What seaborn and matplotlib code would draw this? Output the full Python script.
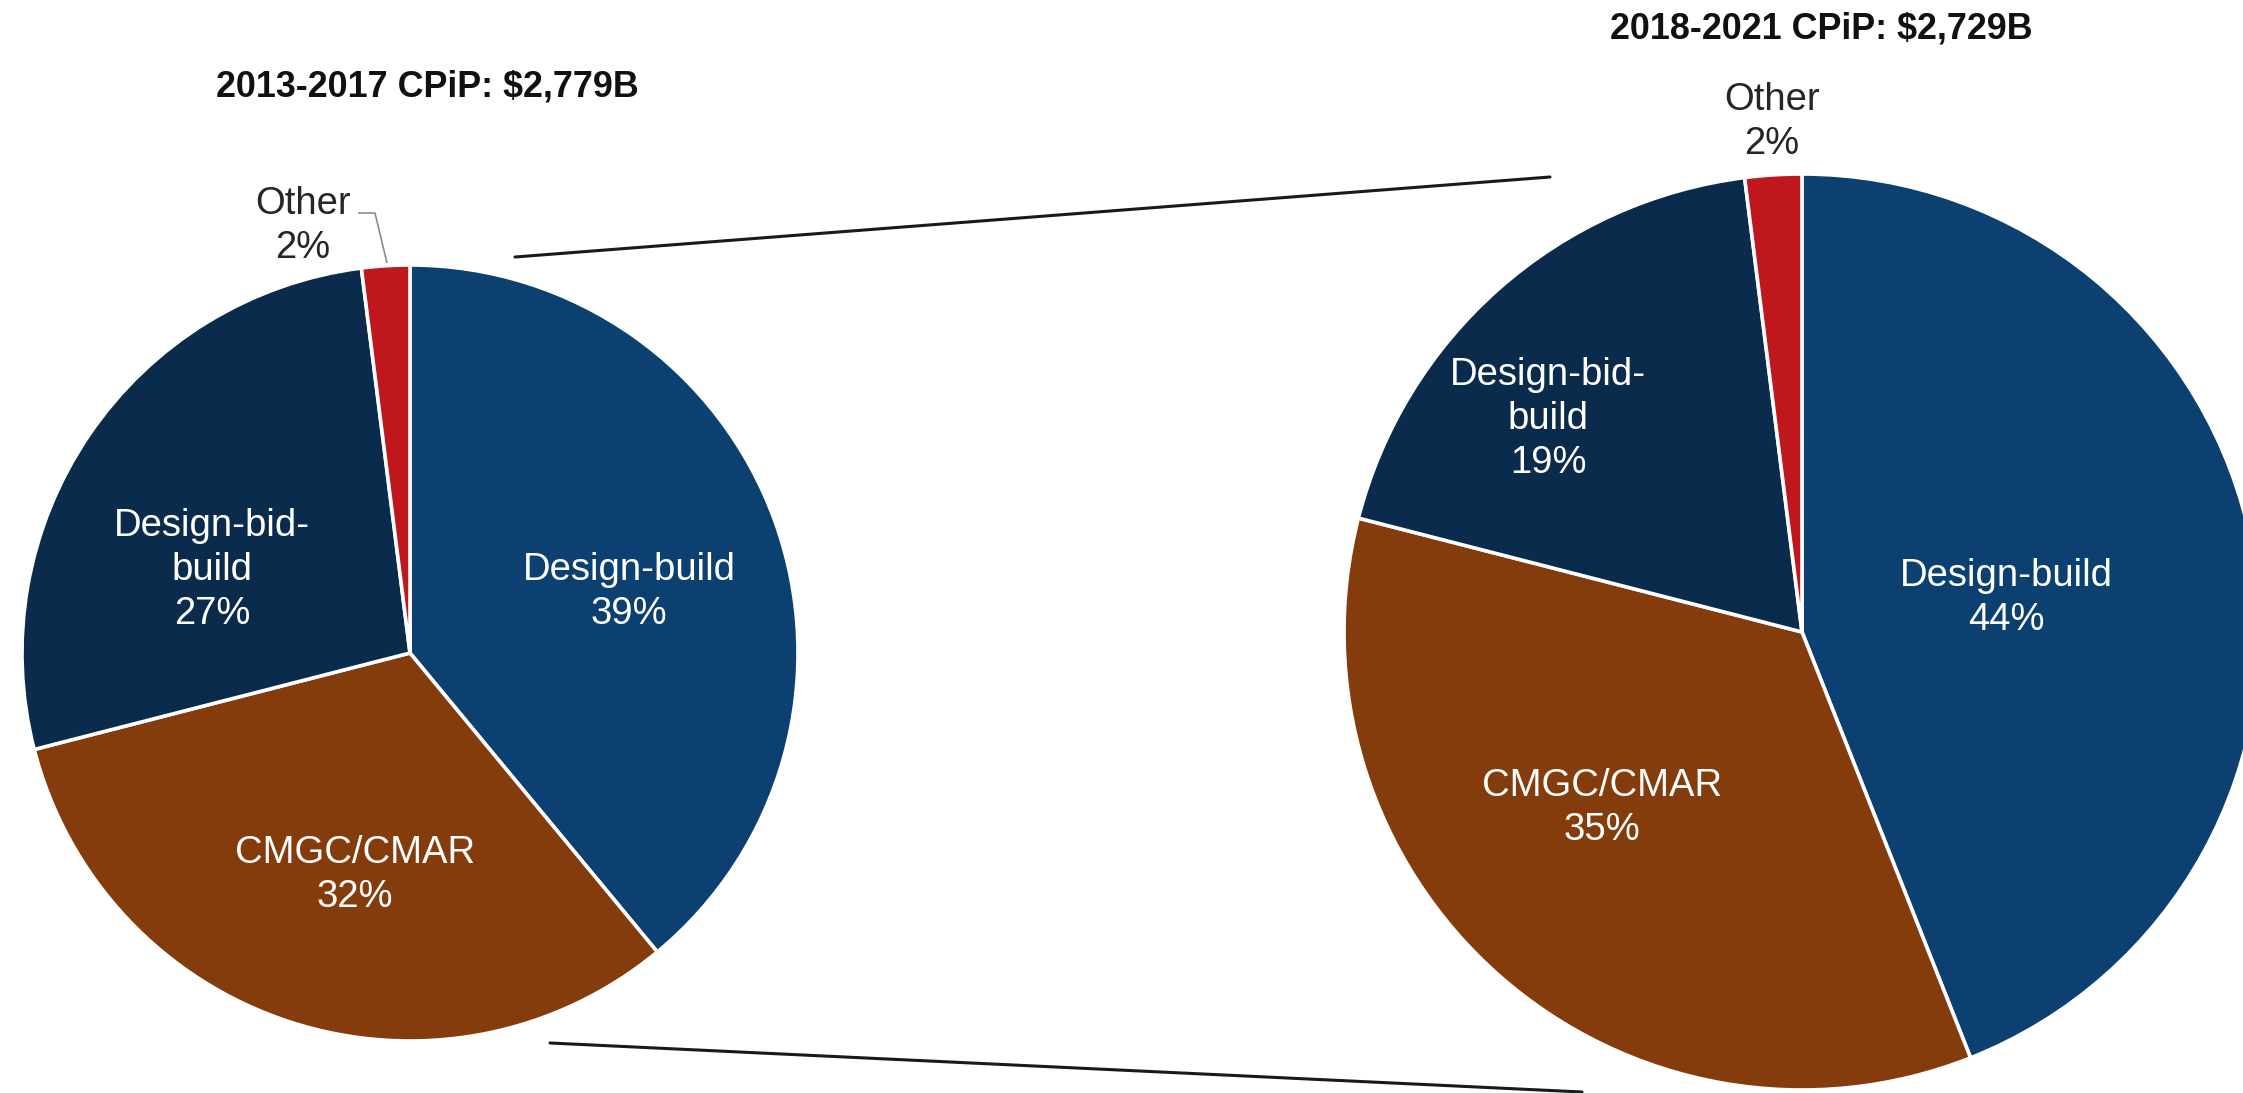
import matplotlib
matplotlib.use("Agg")
import matplotlib.pyplot as plt
import seaborn as sns

# Delivery-method shares of construction put in place (CPiP)
categories = ["Design-build", "CMGC/CMAR", "Design-bid-build", "Other"]
wedge_labels = ["Design-build", "CMGC/CMAR", "Design-bid-\nbuild", "Other"]
shares_2013_2017 = [39, 32, 27, 2]
shares_2018_2021 = [44, 35, 19, 2]
titles = ["2013-2017 CPiP: $2,779B", "2018-2021 CPiP: $2,729B"]

sns.set_theme(style="white")
plt.rcParams["font.family"] = ["Liberation Sans", "DejaVu Sans"]

palette = sns.color_palette(["#0B4070", "#843C0C", "#0A2B4B", "#C0161E"])

W, H = 2243, 1093
fig = plt.figure(figsize=(W / 100, H / 100), dpi=100)
ax = fig.add_axes([0, 0, 1, 1])


def py(y):
    """Convert a top-down pixel row to the upward axis coordinate."""
    return H - y


pies = [
    dict(values=shares_2013_2017, center=(410, py(653)), radius=388,
         title=titles[0], title_xy=(427, py(97)),
         label_xy=[(629, py(592)), (355, py(875)), (212, py(570)), (303, py(226))]),
    dict(values=shares_2018_2021, center=(1802, py(632)), radius=458,
         title=titles[1], title_xy=(1821, py(39)),
         label_xy=[(2006, py(598)), (1602, py(808)), (1548, py(419)), (1772, py(122))]),
]

for p in pies:
    ax.pie(p["values"], colors=palette, startangle=90, counterclock=False,
           center=p["center"], radius=p["radius"],
           wedgeprops=dict(edgecolor="white", linewidth=2.6))
    ax.text(p["title_xy"][0], p["title_xy"][1], p["title"], ha="center",
            va="baseline", fontsize=25.8, fontweight="bold", color="#111111")
    for i, (lab, val) in enumerate(zip(wedge_labels, p["values"])):
        x, y = p["label_xy"][i]
        color = "#262626" if categories[i] == "Other" else "white"
        ax.text(x, y, f"{lab}\n{val}%", ha="center", va="center",
                multialignment="center", fontsize=27.5, color=color,
                linespacing=1.28)

# Leader line from the small "Other" label to its wedge on the left pie
ax.plot([358, 375, 387], [py(213), py(213), py(263)], color="#8c8c8c",
        linewidth=1.2, solid_capstyle="butt")

# Connector lines between the two pies
ax.plot([515, 1550], [py(257), py(177)], color="#1a1a1a", linewidth=2.2)
ax.plot([550, 1582], [py(1043), py(1092)], color="#1a1a1a", linewidth=2.2)

ax.set_xlim(0, W)
ax.set_ylim(0, H)
ax.set_aspect("equal")
ax.axis("off")

fig.savefig("out.png", dpi=100, facecolor="white")
